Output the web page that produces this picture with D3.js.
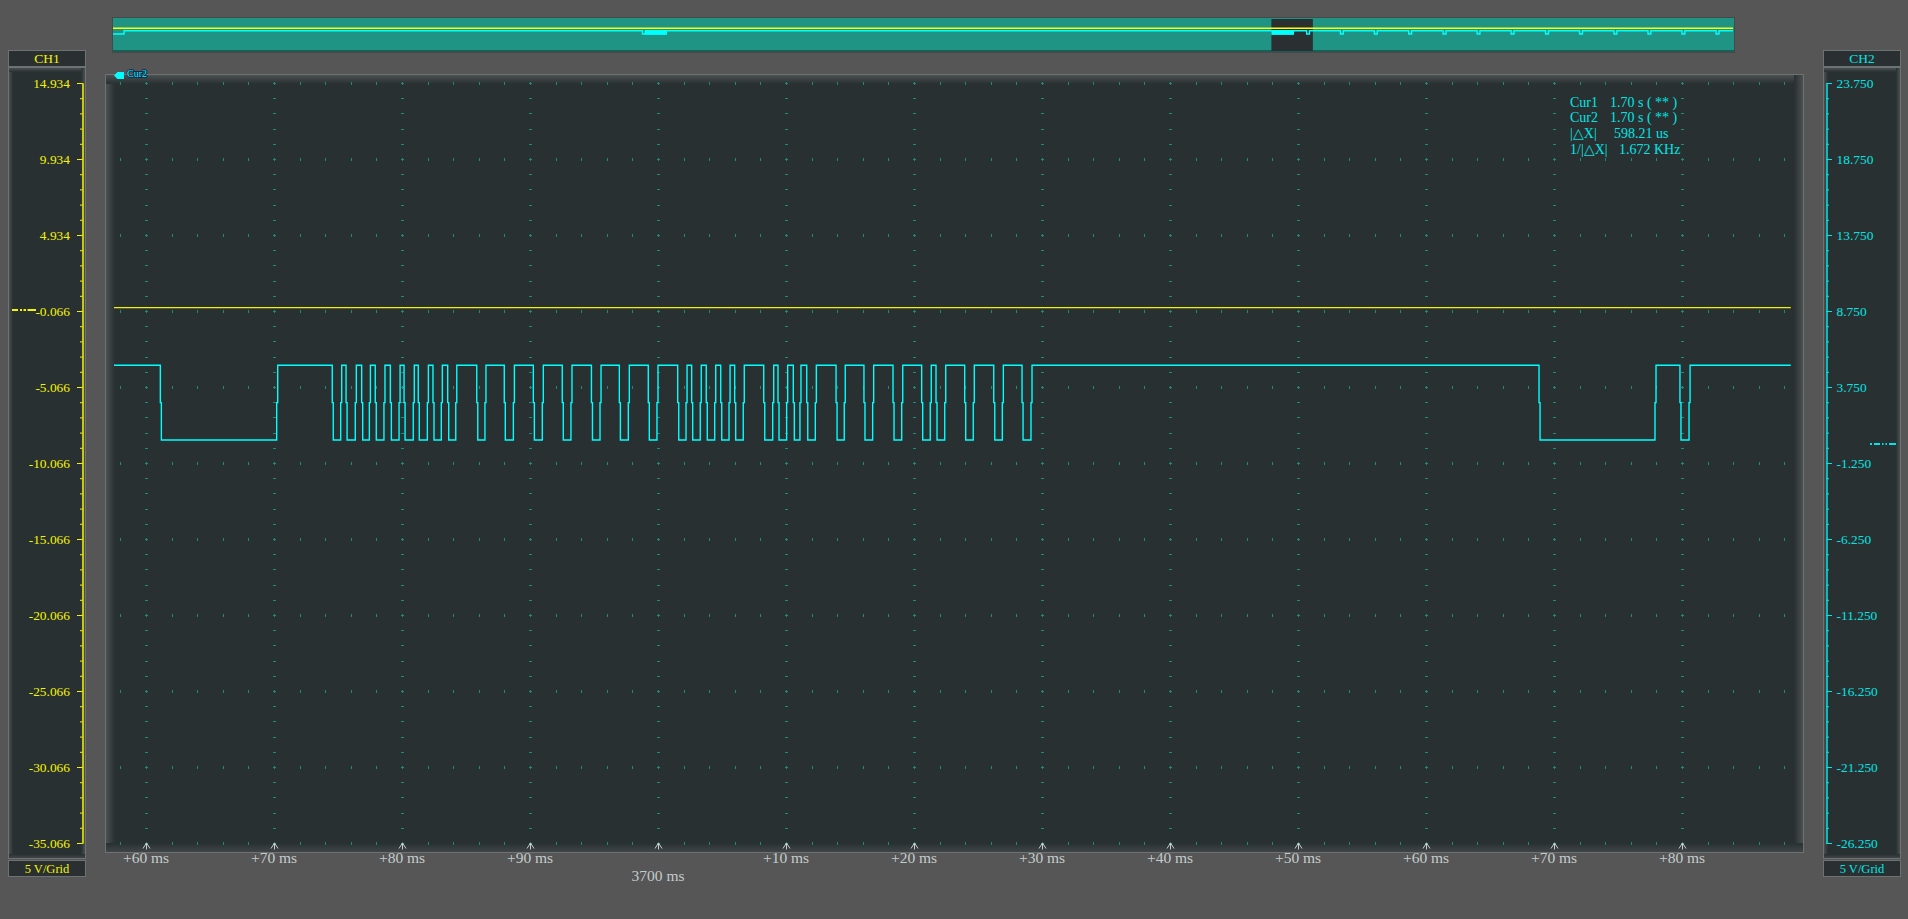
<!DOCTYPE html>
<html><head><meta charset="utf-8">
<script src="https://cdn.jsdelivr.net/npm/d3@7/dist/d3.min.js"></script>
<style>
html,body{margin:0;padding:0;background:#565656;overflow:hidden}
svg{display:block}
</style></head><body>
<svg id="c" width="1908" height="919"></svg>
<script>
// ---------------- data ----------------
const ch1Ticks = [14.934, 9.934, 4.934, -0.066, -5.066, -10.066, -15.066, -20.066, -25.066, -30.066, -35.066];
const ch2Ticks = [23.75, 18.75, 13.75, 8.75, 3.75, -1.25, -6.25, -11.25, -16.25, -21.25, -26.25];
const timeTicks = [3660, 3670, 3680, 3690, 3700, 3710, 3720, 3730, 3740, 3750, 3760, 3770, 3780];
const timeTickLabels = ["+60 ms", "+70 ms", "+80 ms", "+90 ms", "", "+10 ms", "+20 ms", "+30 ms", "+40 ms", "+50 ms", "+60 ms", "+70 ms", "+80 ms"];
const centerTimeLabel = "3700 ms";
const ch1Name = "CH1", ch2Name = "CH2";
const ch1Scale = "5 V/Grid", ch2Scale = "5 V/Grid";
const ch1Offset = -0.066, ch2Offset = 0.0;

const traceStart = 3657.5, traceEnd = 3788.5;   // ms shown in the main window
const ch1Level = 0.16;                          // V, CH1 (flat)
const ch2High = 5.18, ch2Low = 0.26, ch2Mid = 2.72;
// CH2 edges (ms), alternating falling / rising, starting from high
const ch2Edges = [
  3661.12, 3670.21, 3674.55, 3675.21, 3675.63, 3676.35, 3676.85, 3677.45,
  3677.91, 3678.59, 3679.09, 3679.77, 3680.16, 3680.88, 3681.27, 3681.98,
  3682.42, 3683.07, 3683.57, 3684.20, 3685.84, 3686.48, 3687.99, 3688.70,
  3690.26, 3690.96, 3692.52, 3693.20, 3694.80, 3695.47, 3696.98, 3697.68,
  3699.24, 3699.92, 3701.54, 3702.19, 3702.63, 3703.30, 3703.77, 3704.43,
  3704.90, 3705.55, 3705.99, 3706.66, 3708.26, 3708.96, 3709.375, 3710.05,
  3710.57, 3711.09, 3711.62, 3712.29, 3713.91, 3714.55, 3716.09, 3716.77,
  3718.36, 3719.04, 3720.60, 3721.27, 3721.72, 3722.40, 3723.96, 3724.63,
  3726.23, 3726.90, 3728.44, 3729.14, 3768.83, 3777.89, 3779.84, 3780.55
];

const cursorLabels = ["Cur1", "Cur2", "|\u25B3X|", "1/|\u25B3X|"];
const cursorValues = ["1.70 s ( ** )", "1.70 s ( ** )", "598.21 us", "1.672 KHz"];
const cursorMarkLabel = "Cur2";

// overview (whole record)
const overviewStart = 0, overviewEnd = 5115;    // ms
const ovInitialLowEnd = 35;
const ovPulses = [1671.6, 3768.8, 3875.3, 3982.6, 4091.2, 4199.6, 4306.9, 4414.3, 4523.2, 4630.6, 4739.2, 4846.5, 4953.9, 5061.6];
const ovPulseWidth = 9.1;
const ovBursts = [[1680, 1749], [3657.5, 3729]];

// ---------------- layout ----------------
const svg = d3.select("#c");
const defs = svg.append("defs");
function grad(id, x1, y1, x2, y2, c1, c2) {
  const g = defs.append("linearGradient").attr("id", id)
    .attr("x1", x1).attr("y1", y1).attr("x2", x2).attr("y2", y2);
  g.append("stop").attr("offset", 0).attr("stop-color", c1);
  g.append("stop").attr("offset", 1).attr("stop-color", c2);
}
const BG = "#293031";
grad("gL", 0, 0, 1, 0, "#4b5051", BG);
grad("gR", 1, 0, 0, 0, "#4b5051", BG);
grad("gT", 0, 0, 0, 1, "#4b5051", BG);
grad("gB", 0, 1, 0, 0, "#404647", BG);

const serif = "'Liberation Serif','Times New Roman',serif";

const x = d3.scaleLinear().domain([3660, 3780]).range([146, 1682]);
const y1 = d3.scaleLinear().domain([-35.066, 14.934]).range([843, 83]);
const y2 = d3.scaleLinear().domain([-26.25, 23.75]).range([843, 83]);

function bevelBox(g, bx, by, bw, bh, band) {
  g.append("rect").attr("x", bx + 0.5).attr("y", by + 0.5).attr("width", bw).attr("height", bh)
    .attr("fill", BG).attr("stroke", "#6d7272");
  g.append("rect").attr("x", bx + 1).attr("y", by + 1).attr("width", band).attr("height", bh - 1).attr("fill", "url(#gL)");
  g.append("rect").attr("x", bx + 1).attr("y", by + 1).attr("width", bw - 1).attr("height", band).attr("fill", "url(#gT)");
  g.append("rect").attr("x", bx + bw - band).attr("y", by + 1).attr("width", band).attr("height", bh - 1).attr("fill", "url(#gR)");
  g.append("rect").attr("x", bx + 1).attr("y", by + bh - band).attr("width", bw - 1).attr("height", band).attr("fill", "url(#gB)");
}

// ---------- overview ----------
const xOv = d3.scaleLinear().domain([overviewStart, overviewEnd]).range([113, 1733]);
const yOv1 = d3.scaleLinear().domain([-35.066, 14.934]).range([51.5, 18.5]);
const yOv2 = d3.scaleLinear().domain([-26.25, 23.75]).range([51.5, 18.5]);
const ov = svg.append("g");
ov.append("rect").attr("x", 112.5).attr("y", 17.5).attr("width", 1622).attr("height", 35)
  .attr("fill", "#209484").attr("stroke", "#444a4a");
ov.append("rect").attr("x", 113).attr("y", 50).attr("width", 1621).attr("height", 2).attr("fill", "#1f5c55");
ov.append("rect").attr("x", xOv(traceStart)).attr("y", 19).attr("width", xOv(traceEnd) - xOv(traceStart)).attr("height", 32)
  .attr("fill", "#2a3031");
ov.append("line").attr("x1", xOv(overviewStart)).attr("x2", xOv(overviewEnd))
  .attr("y1", yOv1(ch1Level)).attr("y2", yOv1(ch1Level))
  .attr("stroke", "#ffff00").attr("stroke-width", 1.4);
const ovPts = [[overviewStart, ch2Low], [ovInitialLowEnd, ch2High]];
ovPulses.forEach(p => { ovPts.push([p, ch2Low]); ovPts.push([p + ovPulseWidth, ch2High]); });
ovPts.push([overviewEnd, ch2High]);
ov.append("path").attr("d", d3.line().x(d => xOv(d[0])).y(d => yOv2(d[1])).curve(d3.curveStepAfter)(ovPts))
  .attr("fill", "none").attr("stroke", "#00ffff").attr("stroke-width", 1.4);
ov.selectAll("rect.burst").data(ovBursts).join("rect").attr("class", "burst")
  .attr("x", d => xOv(d[0])).attr("width", d => xOv(d[1]) - xOv(d[0]))
  .attr("y", yOv2(ch2High) - 0.7).attr("height", yOv2(ch2Low) - yOv2(ch2High) + 1.6)
  .attr("fill", "#00ffff");

// ---------- main plot frame ----------
const pf = svg.append("g");
bevelBox(pf, 105, 74, 1698, 778, 9);

// grid ticks
const grid = svg.append("g").attr("stroke", "#1f8a7b").attr("shape-rendering", "crispEdges");
const minorTimes = d3.range(3658, 3789, 2);
const majorTimes = timeTicks;
const majorV = d3.range(0, 11).map(i => -35.066 + 5 * i);
const minorV = d3.range(0, 51).map(i => -35.066 + i).filter((v, i) => i % 5 !== 0);
// short vertical dashes on major rows
majorV.forEach(v => {
  const yy = Math.round(y1(v));
  minorTimes.forEach(t => {
    const xx = Math.round(x(t)) + 0.5;
    grid.append("line").attr("x1", xx).attr("x2", xx).attr("y1", yy - 1).attr("y2", yy + 2);
  });
});
// short horizontal dashes on major columns
majorTimes.forEach(t => {
  const xx = Math.round(x(t));
  minorV.forEach(v => {
    const yy = Math.round(y1(v)) + 0.5;
    grid.append("line").attr("x1", xx - 1).attr("x2", xx + 2).attr("y1", yy).attr("y2", yy);
  });
  majorV.forEach(v => {
    const yy = Math.round(y1(v)) + 0.5;
    grid.append("line").attr("x1", xx - 1).attr("x2", xx + 2).attr("y1", yy).attr("y2", yy);
  });
});

// time axis arrows + labels
const ax = svg.append("g");
timeTicks.forEach((t, i) => {
  const xx = Math.round(x(t)) + 0.5;
  ax.append("path").attr("d", `M${xx},843 L${xx - 3.5},848.5 M${xx},843 L${xx + 3.5},848.5 M${xx},843 V849.5`)
    .attr("stroke", "#c9cdcd").attr("fill", "none").attr("stroke-width", 1);
  ax.append("text").attr("x", x(t)).attr("y", 863).attr("text-anchor", "middle")
    .attr("font-family", serif).attr("font-size", 15.5).attr("fill", "#c3cccc").text(timeTickLabels[i]);
});
ax.append("text").attr("x", x(3700)).attr("y", 881).attr("text-anchor", "middle")
  .attr("font-family", serif).attr("font-size", 15.5).attr("fill", "#c3cccc").text(centerTimeLabel);

// ---------- traces ----------
const trace = svg.append("g");
trace.append("line").attr("x1", x(traceStart)).attr("x2", x(traceEnd))
  .attr("y1", y1(ch1Level)).attr("y2", y1(ch1Level))
  .attr("stroke", "#f2f200").attr("stroke-width", 1.3);
const pts = [[traceStart, ch2High]];
let level = ch2High;
ch2Edges.forEach(e => {
  level = (level === ch2High) ? ch2Low : ch2High;
  pts.push([e, ch2Mid]);
  pts.push([e + 0.08, level]);
});
pts.push([traceEnd, level]);
trace.append("path").attr("d", d3.line().x(d => x(d[0])).y(d => y2(d[1])).curve(d3.curveStepAfter)(pts))
  .attr("fill", "none").attr("stroke", "#00ffff").attr("stroke-width", 1.4);

// cursor marker (off-screen cursor)
const cm = svg.append("g");
cm.append("path").attr("d", "M114,75.5 L117.5,72 L124,72 L124,79 L117.5,79 Z").attr("fill", "#00ffff");
cm.append("text").attr("x", 127).attr("y", 76.5).attr("font-family", serif).attr("font-size", 10)
  .attr("fill", "#00ffff").attr("stroke", "#0a1e4a").attr("stroke-width", 1.6).attr("paint-order", "stroke")
  .text(cursorMarkLabel);

// cursor readout
const cr = svg.append("g").attr("font-family", serif).attr("font-size", 14).attr("fill", "#00e6e6");
const crX2 = [1610, 1610, 1614, 1619];
cursorLabels.forEach((l, i) => {
  const yy = 106.5 + i * 15.9;
  cr.append("text").attr("x", 1570).attr("y", yy).text(l);
  cr.append("text").attr("x", crX2[i]).attr("y", yy).text(cursorValues[i]);
});

// ---------- channel panels ----------
function panel(px, color, name, scaleTxt) {
  const g = svg.append("g");
  g.append("rect").attr("x", px + 0.5).attr("y", 50.5).attr("width", 77).attr("height", 16)
    .attr("fill", "#2a3031").attr("stroke", "#6d7272");
  g.append("text").attr("x", px + 39).attr("y", 63).attr("text-anchor", "middle")
    .attr("font-family", serif).attr("font-size", 13.5).attr("fill", color).text(name);
  bevelBox(g, px, 67, 77, 791, 4);
  g.append("rect").attr("x", px + 0.5).attr("y", 860.5).attr("width", 77).attr("height", 16)
    .attr("fill", "#2a3031").attr("stroke", "#6d7272");
  g.append("text").attr("x", px + 39).attr("y", 873).attr("text-anchor", "middle")
    .attr("font-family", serif).attr("font-size", 12.5).attr("fill", color).text(scaleTxt);
}
panel(8, "#f4f400", ch1Name, ch1Scale);
panel(1823, "#00e6e6", ch2Name, ch2Scale);

// CH1 axis
const fmt = d => d.toFixed(3);
const a1minor = svg.append("g").attr("transform", "translate(82.5,0)")
  .call(d3.axisLeft(y1).tickValues(d3.range(0, 51).map(i => -35.066 + i)).tickSize(2.5).tickFormat("").tickSizeOuter(0));
const a1 = svg.append("g").attr("transform", "translate(82.5,0)")
  .call(d3.axisLeft(y1).tickValues(ch1Ticks).tickSize(5.5).tickPadding(7).tickFormat(fmt).tickSizeOuter(0));
[a1minor, a1].forEach(g => {
  g.selectAll("path,line").attr("stroke", "#f4f400");
  g.selectAll("text").attr("fill", "#f4f400").attr("font-family", serif).attr("font-size", 13.4);
});
// CH2 axis
const a2minor = svg.append("g").attr("transform", "translate(1826.5,0)")
  .call(d3.axisRight(y2).tickValues(d3.range(0, 51).map(i => -26.25 + i)).tickSize(2.5).tickFormat("").tickSizeOuter(0));
const a2 = svg.append("g").attr("transform", "translate(1826.5,0)")
  .call(d3.axisRight(y2).tickValues(ch2Ticks).tickSize(5.5).tickPadding(4.5).tickFormat(fmt).tickSizeOuter(0));
[a2minor, a2].forEach(g => {
  g.selectAll("path,line").attr("stroke", "#00e6e6");
  g.selectAll("text").attr("fill", "#00e6e6").attr("font-family", serif).attr("font-size", 13.4);
});

// channel offset markers
svg.append("line").attr("x1", 12).attr("x2", 36).attr("y1", y1(ch1Offset) - 1).attr("y2", y1(ch1Offset) - 1)
  .attr("stroke", "#f4f400").attr("stroke-width", 2).attr("stroke-dasharray", "6 2 2 1.5 2.5 1.5 9");
svg.append("line").attr("x1", 1870).attr("x2", 1896).attr("y1", y2(ch2Offset)).attr("y2", y2(ch2Offset))
  .attr("stroke", "#00e6e6").attr("stroke-width", 2).attr("stroke-dasharray", "2 2 6 2 1.5 2 1.5 2 8");
</script>
</body></html>
